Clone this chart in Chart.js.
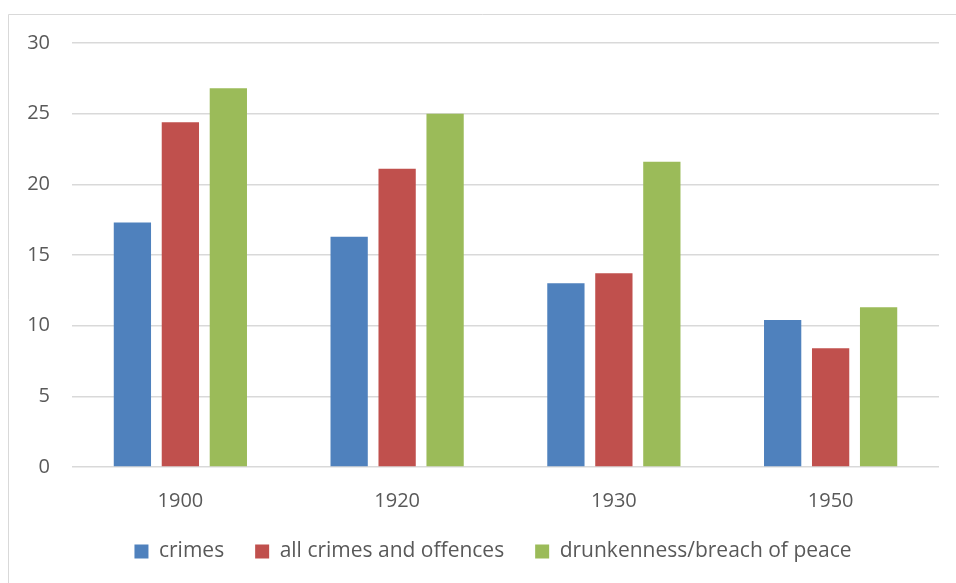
<!DOCTYPE html>
<html><head><meta charset="utf-8">
<script src="https://cdn.jsdelivr.net/npm/chart.js@4/dist/chart.umd.min.js"></script>
<style>html,body{margin:0;padding:0;background:#fff;}canvas{display:block;}</style>
</head><body>
<canvas id="c" width="956" height="583"></canvas>
<script>
const categories = ['1900', '1920', '1930', '1950'];
const crimes = [17.3, 16.3, 13.0, 10.4];
const allCrimesAndOffences = [24.4, 21.1, 13.7, 8.4];
const drunkenness = [26.8, 25.0, 21.6, 11.3];
const seriesLabels = ['crimes', 'all crimes and offences', 'drunkenness/breach of peace'];
const yTicks = [0, 5, 10, 15, 20, 25, 30];

const FONT = "'Open Sans', sans-serif";
const borderPlugin = {
  id: 'outerBorder',
  beforeDraw(chart) {
    const ctx = chart.ctx;
    ctx.save();
    ctx.fillStyle = '#fff';
    ctx.fillRect(0, 0, chart.width, chart.height);
    ctx.strokeStyle = '#d9d9d9';
    ctx.lineWidth = 1;
    ctx.beginPath();
    ctx.moveTo(8.5, chart.height + 2);
    ctx.lineTo(8.5, 14.5);
    ctx.lineTo(chart.width + 2, 14.5);
    ctx.stroke();
    ctx.restore();
  }
};
const legendShift = {
  id: 'legendShift',
  afterLayout(chart) {
    const lg = chart.legend;
    if (lg) { lg.left += 19.5; lg.right += 19.5; }
  }
};

new Chart(document.getElementById('c'), {
  type: 'bar',
  data: {
    labels: categories,
    datasets: [
      { label: seriesLabels[0], data: crimes, backgroundColor: '#4F81BD' },
      { label: seriesLabels[1], data: allCrimesAndOffences, backgroundColor: '#C0504D' },
      { label: seriesLabels[2], data: drunkenness, backgroundColor: '#9BBB59' }
    ]
  },
  options: {
    responsive: false,
    animation: false,
    devicePixelRatio: 1,
    layout: { padding: { top: 43, left: 8, right: 17, bottom: 11 } },
    datasets: { bar: { categoryPercentage: 0.664, barPercentage: 0.777, borderWidth: 0 } },
    plugins: {
      tooltip: { enabled: false },
      legend: {
        position: 'bottom',
        labels: {
          boxWidth: 14, boxHeight: 14, padding: 31,
          color: '#595959',
          font: { family: FONT, size: 21 }
        }
      }
    },
    scales: {
      x: {
        grid: { display: false },
        border: { display: false },
        ticks: { color: '#595959', font: { family: FONT, size: 20 }, padding: 14, maxRotation: 0 },
        afterFit(s) { s.height = 43; }
      },
      y: {
        min: 0, max: 30,
        afterBuildTicks(s) { s.ticks = yTicks.map(v => ({ value: v })); },
        grid: { color: '#d9d9d9', lineWidth: 1.5, drawTicks: false },
        border: { display: false },
        ticks: { color: '#595959', font: { family: FONT, size: 20 }, padding: 22 },
        afterFit(s) { s.width = 64; }
      }
    }
  },
  plugins: [borderPlugin, legendShift]
});
</script>
</body></html>
